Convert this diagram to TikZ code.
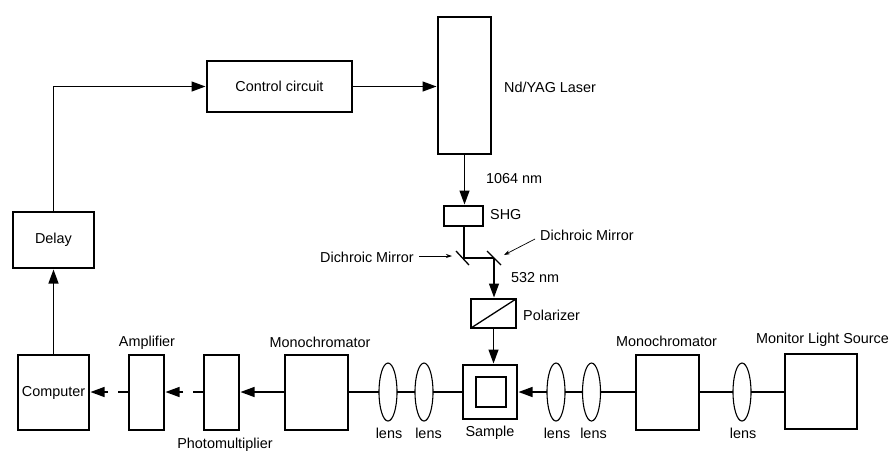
\documentclass[tikz,border=0pt]{standalone}
\usepackage{fontspec}
\setmainfont{Liberation Sans}
\usetikzlibrary{arrows.meta, calc, shapes.geometric}

\begin{document}
\begin{tikzpicture}[
    x=1pt, y=-1pt, font=\fontsize{14.4pt}{16pt}\selectfont,
    blk/.style={draw, line width=1.3pt, inner sep=0pt, outer sep=0pt, anchor=north west},
    lens/.style={draw, line width=1.1pt, ellipse, inner sep=0pt, outer sep=0pt, minimum width=18pt, minimum height=58pt},
    beam/.style={line width=1.3pt},
    sig/.style={-{Triangle[length=14pt, width=10pt]}, line width=1.3pt, shorten >=1.5pt},
    fade/.style={sig, dash pattern=on 11pt off 10pt on 20pt},
    lbl/.style={inner sep=0pt},
    pointer/.style={-{Stealth[length=6pt, width=4pt]}, line width=0.7pt},
]
\useasboundingbox (0,0) rectangle (890,451);

% ----- boxes -----
\node[blk, minimum width=53pt, minimum height=137pt] (laser) at (438,17) {};
\node[blk, minimum width=145pt, minimum height=51pt] (control) at (207,61) {Control circuit};
\node[blk, minimum width=81pt, minimum height=56pt] (delay) at (13,212) {Delay};
\node[blk, minimum width=39pt, minimum height=20pt] (shg) at (444,206) {};
\node[blk, minimum width=45pt, minimum height=29pt] (polarizer) at (471,299) {};
\node[blk, minimum width=71pt, minimum height=75pt] (computer) at (18,355) {Computer};
\node[blk, minimum width=35pt, minimum height=75pt] (amplifier) at (129,355) {};
\node[blk, minimum width=35pt, minimum height=75pt] (pmt) at (204,355) {};
\node[blk, minimum width=63pt, minimum height=75pt] (monoA) at (285,355) {};
\node[blk, minimum width=54pt, minimum height=54pt] (sample) at (463,365) {};
\node[blk, minimum width=30pt, minimum height=30pt] (cell) at (476,377) {};
\node[blk, minimum width=63pt, minimum height=75pt] (monoB) at (636,355) {};
\node[blk, minimum width=72pt, minimum height=75pt] (source) at (785,354) {};

% ----- lenses -----
\foreach \x/\t/\n in {388/389/a, 424/428.5/b, 556/557/c, 591.5/593.5/d, 742/743/e} {
    \node[lens] (lens\n) at (\x,392) {};
    \node[lbl] (lbl\n) at (\t,433) {lens};
}

% ----- top of the loop -----
\draw[sig] (computer.north) -- (delay.south);
\draw[sig] (delay.north) |- (control.west);
\draw[sig] (control.east) -- (laser.west |- control.east);
\draw[sig] (laser.south) -- (laser.south |- shg.north);

% ----- mirrors -----
\coordinate (mirA) at (464,258);
\coordinate (mirB) at (494,258);
\draw[beam] (shg.south -| mirA) -- (mirA) -- (mirB);
\draw[beam] (456,251) -- (469,265);
\draw[beam] (487,251) -- (501,265);
\draw[sig] (mirB) -- (mirB |- polarizer.north);
\draw[line width=1.3pt] (polarizer.south west) -- (polarizer.north east);
\draw[sig] (polarizer.south) -- (polarizer.south |- sample.north);

% ----- main beam -----
\draw[beam] (source.west |- lense) -- (lense);
\draw[beam] (lense) -- (monoB.east |- lense);
\draw[beam] (monoB.west |- lensd) -- (lensd);
\draw[beam] (lensd) -- (lensc);
\draw[sig] (lensc) -- (sample.east |- lensc);
\draw[beam] (sample.west |- lensb) -- (lensb);
\draw[beam] (lensb) -- (lensa);
\draw[beam] (lensa) -- (monoA.east |- lensa);
\draw[sig] (monoA.west |- lensa) -- (pmt.east |- lensa);
\draw[fade] (pmt.west |- lensa) -- (amplifier.east |- lensa);
\draw[fade] (amplifier.west |- lensa) -- (computer.east |- lensa);

% ----- labels -----
\node[lbl, anchor=west] (lblLaser) at (504,87) {Nd/YAG Laser};
\node[lbl, anchor=west] (lbl1064) at (486,179) {1064 nm};
\node[lbl, anchor=west] (lblShg) at (490,215) {SHG};
\node[lbl, anchor=west] (lblDmB) at (540,235) {Dichroic Mirror};
\node[lbl, anchor=west] (lblDmA) at (320,257) {Dichroic Mirror};
\node[lbl, anchor=west] (lbl532) at (511,278) {532 nm};
\node[lbl, anchor=west] (lblPol) at (523,315) {Polarizer};
\node[lbl] (lblAmp) at (147,343) {Amplifier};
\node[lbl] (lblPmt) at (225,445) {Photomultiplier};
\node[lbl] (lblMonoA) at (320,342) {Monochromator};
\node[lbl] (lblMonoB) at (666.5,341) {Monochromator};
\node[lbl] (lblSource) at (822.5,340) {Monitor Light Source};
\node[lbl] (lblSample) at (490,433) {Sample};

\coordinate (tipA) at (452,256);
\coordinate (tipB) at (504,255);
\draw[pointer] (lblDmA.east) ++(5,-1) -- (tipA);
\draw[pointer] (535,239) -- (tipB);
\end{tikzpicture}
\end{document}
